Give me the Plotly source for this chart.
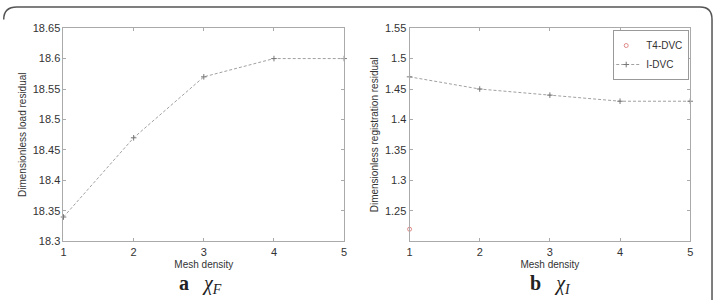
import plotly.graph_objects as go

mesh = [1, 2, 3, 4, 5]
load_idvc = [18.34, 18.47, 18.57, 18.60, 18.60]
reg_idvc = [1.47, 1.45, 1.44, 1.43, 1.43]
reg_t4_x = [1]
reg_t4 = [1.22]

left_ticks = [18.3, 18.35, 18.4, 18.45, 18.5, 18.55, 18.6, 18.65]
left_labels = ["18.3", "18.35", "18.4", "18.45", "18.5", "18.55", "18.6", "18.65"]
right_ticks = [1.25, 1.3, 1.35, 1.4, 1.45, 1.5, 1.55]
right_labels = ["1.25", "1.3", "1.35", "1.4", "1.45", "1.5", "1.55"]

W, H = 717, 306
line_col = "#a0a0a0"
font = "Liberation Sans, Arial, sans-serif"

fig = go.Figure()
fig.add_trace(go.Scatter(x=mesh, y=load_idvc, mode="lines+markers", showlegend=False,
                         line=dict(color=line_col, width=1, dash="3px,2px"),
                         marker=dict(symbol="cross-thin", size=4, line=dict(color="#777", width=1)),
                         xaxis="x", yaxis="y", cliponaxis=False))
fig.add_trace(go.Scatter(x=reg_t4_x, y=reg_t4, mode="markers", name="T4-DVC",
                         marker=dict(symbol="circle-open", size=4, color="#e08a8a", line=dict(width=1)),
                         xaxis="x2", yaxis="y2", cliponaxis=False))
fig.add_trace(go.Scatter(x=mesh, y=reg_idvc, mode="lines+markers", name="I-DVC",
                         line=dict(color=line_col, width=1, dash="3px,2px"),
                         marker=dict(symbol="cross-thin", size=4, line=dict(color="#777", width=1)),
                         xaxis="x2", yaxis="y2", cliponaxis=False))

ydom = [1 - 245 / H, 1 - 23 / H]
axcommon = dict(showline=True, linecolor="#aaa", linewidth=1, mirror="ticks", ticks="inside",
                ticklen=3, tickcolor="#aaa", showgrid=False, zeroline=False,
                tickfont=dict(family=font, size=11, color="#333"))

fig.update_layout(
    width=W, height=H, margin=dict(l=0, r=0, t=0, b=0),
    paper_bgcolor="white", plot_bgcolor="white",
    font=dict(family=font, color="#333"),
    xaxis=dict(domain=[61 / W, 344 / W], range=[1, 5], tickvals=mesh, anchor="y",
               title=dict(text="Mesh density", font=dict(size=10), standoff=4), **axcommon),
    yaxis=dict(domain=ydom, range=[18.3, 18.65], tickvals=left_ticks, ticktext=left_labels, anchor="x",
               title=dict(text="Dimensionless load residual", font=dict(size=10), standoff=4), **axcommon),
    xaxis2=dict(domain=[410 / W, 693 / W], range=[1, 5], tickvals=mesh, anchor="y2",
                title=dict(text="Mesh density", font=dict(size=10), standoff=4), **axcommon),
    yaxis2=dict(domain=ydom, range=[1.2, 1.55], tickvals=right_ticks, ticktext=right_labels, anchor="x2",
                title=dict(text="Dimensionless registration residual", font=dict(size=10), standoff=4), **axcommon),
    legend=dict(x=692 / W, y=1 - 25 / H, xanchor="right", yanchor="top",
                bordercolor="#999", borderwidth=1, bgcolor="white",
                font=dict(family=font, size=10, color="#333"), tracegroupgap=0,
                itemwidth=30, indentation=-8),
    annotations=[
        dict(text="<b>a</b>   <i>χ<sub>F</sub></i>", x=199 / W, y=1 - 290 / H, xref="paper", yref="paper",
             xanchor="center", yanchor="middle", showarrow=False,
             font=dict(family="Liberation Serif, Times New Roman, serif", size=20, color="#222")),
        dict(text="<b>b</b>   <i>χ<sub>I</sub></i>", x=552 / W, y=1 - 290 / H, xref="paper", yref="paper",
             xanchor="center", yanchor="middle", showarrow=False,
             font=dict(family="Liberation Serif, Times New Roman, serif", size=20, color="#222")),
    ],
    shapes=[
        dict(type="path", xref="paper", yref="paper",
             path=f"M 0.001 {1 - 14 / H} Q 0.001 {1 - 1 / H} {14 / W} {1 - 1 / H} L {(W - 14) / W} {1 - 1 / H} "
                  f"Q {(W - 2) / W} {1 - 1 / H} {(W - 2) / W} {1 - 14 / H} L {(W - 2) / W} 0",
             line=dict(color="#555", width=1.5)),
    ],
)

fig.write_html("out.html")
